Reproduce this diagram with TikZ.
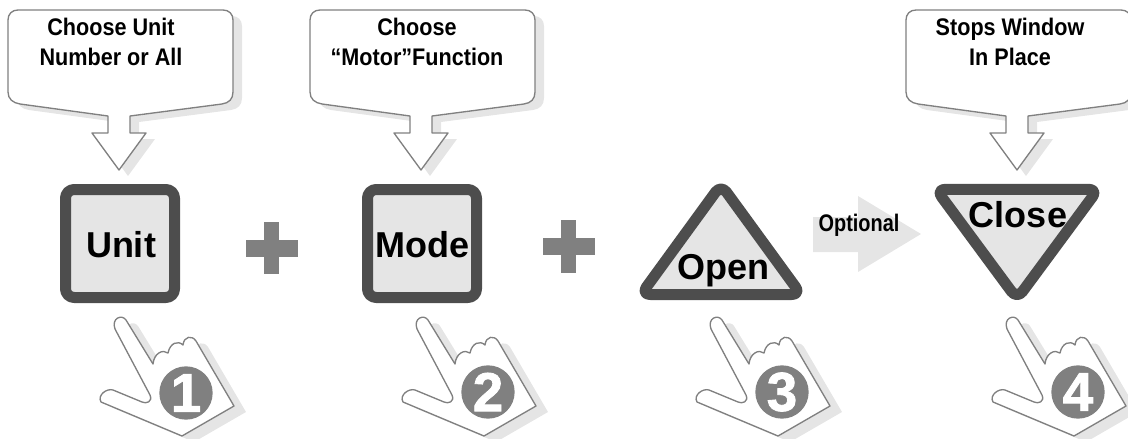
\documentclass[tikz,border=0pt]{standalone}
\usepackage{fontspec}
\setmainfont{Liberation Sans}
\newfontfamily\narrowfont{Liberation Sans}[FakeStretch=0.9]
\newfontfamily\optionfont{Liberation Sans}[FakeStretch=0.83]
\newfontfamily\digitfont{Liberation Sans}[FakeBold=1.6]
\definecolor{signdark}{HTML}{4D4D4D}
\definecolor{signfill}{HTML}{E5E5E5}
\definecolor{midgray}{HTML}{808080}
\newcommand{\balloon}{(18,10) -- (223,10) .. controls (229,10) and (233,14) .. (233,20) -- (233,92)
 .. controls (233,99) and (229,103) .. (222,104) -- (130,116) -- (130,133) -- (146,133) -- (119,170)
 -- (92,133) -- (108,133) -- (108,116) -- (20,104) .. controls (13,103) and (8,99) .. (8,92)
 -- (8,20) .. controls (8,14) and (12,10) .. (18,10) -- cycle}
\newcommand{\pointer}{(102,136) -- (154,106) -- (116,41) .. controls (112,35) and (104,36) .. (103,45)
 .. controls (98,40) and (90,43) .. (88,53) .. controls (83,49) and (74,53) .. (73,64)
 -- (46,20) .. controls (42,14) and (31,18) .. (35,29) -- (70,95) .. controls (73,102) and (66,104) .. (62,102)
 -- (33,90) .. controls (27,88) and (17,95) .. (21,102) -- cycle}
\tikzset{
 outline/.style={draw=midgray,fill=white,line width=1pt,line join=round},
 shade/.style={fill=signfill,draw=none},
 sign/.style={draw=signdark,fill=signfill,line width=8.25pt,line join=round},
 signtext/.style={font=\fontsize{27}{30}\selectfont\bfseries,anchor=base,inner sep=0pt},
 tiptext/.style={font=\fontsize{18}{23}\selectfont\narrowfont\bfseries,align=center,inner sep=0pt},
 digitdot/.style={circle,fill=midgray,text=white,minimum size=40pt,inner sep=0pt,
  font=\fontsize{41}{41}\selectfont\digitfont\bfseries},
 plus/.style={fill=midgray,draw=none}
}
\begin{document}
\begin{tikzpicture}[x=0.75pt,y=-0.75pt]
\useasboundingbox (0,0) rectangle (1128,439);

\fill [shade,shift={(9,6)}] \balloon;
\fill [shade,shift={(311,6)}] \balloon;
\fill [shade,shift={(907,6)}] \balloon;
\draw [outline] \balloon;
\draw [outline,shift={(302,0)}] \balloon;
\draw [outline,shift={(898,0)}] \balloon;
\node [tiptext] (unittip) at (111,42) {Choose Unit\\Number or All};
\node [tiptext] (motortip) at (417,42) {Choose\\“Motor”Function};
\node [tiptext] (stoptip) at (1010,42) {Stops Window\\In Place};

\draw [sign,rounded corners=6.5pt] (65.5,189.5) rectangle (174.5,297.5);
\draw [sign,rounded corners=6.5pt] (367.5,189.5) rectangle (476.5,297.5);
\draw [sign,rounded corners=7pt] (721,294.5) -- (801,294.5) -- (721,184.6) -- (641,294.5) -- cycle;
\draw [sign,rounded corners=7pt] (1017,189.3) -- (1098,189.3) -- (1017,299) -- (936,189.3) -- cycle;
\node [signtext] (unitlabel) at (121,257) {Unit};
\node [signtext] (modelabel) at (422.5,257) {Mode};
\node [signtext] (openlabel) at (723,279) {Open};
\node [signtext] (closelabel) at (1018,227) {Close};

\fill [plus] (246,240) rectangle (298,257);
\fill [plus] (264,222) rectangle (279,274);
\fill [plus] (543,238) rectangle (595,255);
\fill [plus] (561,220) rectangle (576,273);

\fill [signfill] (813,217) -- (858,217) -- (858,196) -- (921,234) -- (858,272) -- (858,252) -- (813,252) -- cycle;
\node [font=\fontsize{18}{23}\selectfont\optionfont\bfseries,anchor=base,inner sep=0pt] (optionlabel) at (859,231) {Optional};

\fill [shade,shift={(92,306)}] \pointer;
\fill [shade,shift={(394,306)}] \pointer;
\fill [shade,shift={(688,306)}] \pointer;
\fill [shade,shift={(984,306)}] \pointer;
\draw [outline,shift={(80,300)}] \pointer;
\draw [outline,shift={(382,300)}] \pointer;
\draw [outline,shift={(676,300)}] \pointer;
\draw [outline,shift={(972,300)}] \pointer;
\node [digitdot] (digitone) at (186,393) {1};
\node [digitdot] (digittwo) at (488,392) {2};
\node [digitdot] (digitthree) at (782,392) {3};
\node [digitdot] (digitfour) at (1078,392) {4};

\end{tikzpicture}
\end{document}
